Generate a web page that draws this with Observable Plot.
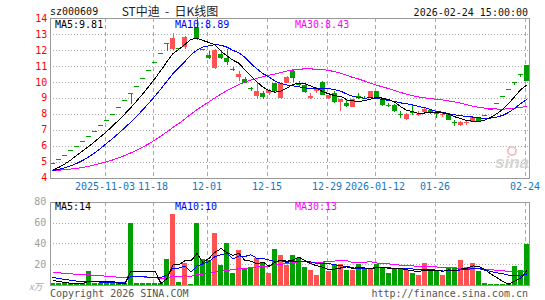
<!DOCTYPE html>
<html><head><meta charset="utf-8">
<script src="https://cdn.jsdelivr.net/npm/d3@7"></script>
<script src="https://cdn.jsdelivr.net/npm/@observablehq/plot@0.6"></script>
<style>
body{margin:0;background:#fff;}
#wrap{position:relative;width:545px;height:300px;overflow:hidden;background:#fff;}
#wrap svg{position:absolute;left:0;shape-rendering:crispEdges;}
</style></head><body><div id="wrap"></div>
<script>
// ---- data ----
const open  = [4.92,5.17,5.43,5.70,5.98,6.28,6.59,6.92,7.27,7.63,8.01,8.41,8.83,9.27,9.73,10.22,10.73,11.27,11.83,12.42,
  12.05,12.11,12.16,13.42,13.42,12.08,11.70,10.88,11.72,11.47,10.82,10.30,10.20,9.58,9.13,9.27,9.27,9.90,8.96,9.95,
  10.68,9.95,9.82,9.00,9.40,10.00,9.00,9.30,8.75,8.70,8.45,9.10,9.01,9.06,9.42,8.86,8.56,8.55,8.00,7.69,
  8.12,7.98,8.10,8.25,8.07,7.95,7.96,7.47,7.30,7.43,7.48,7.77,7.92,8.30,8.65,9.10,9.55,10.00,10.50,11.03];
const high  = [4.92,5.17,5.43,5.70,5.98,6.28,6.59,6.92,7.27,7.63,8.01,8.41,8.83,9.27,9.73,10.22,10.73,11.27,11.83,12.42,
  13.04,12.11,12.85,13.42,14.09,12.08,11.95,12.04,12.00,12.04,10.90,10.68,10.30,9.70,9.90,9.42,9.52,9.95,9.95,10.35,
  10.75,10.05,9.90,9.30,9.65,10.05,9.20,9.40,8.92,8.90,8.95,9.30,9.10,9.42,9.45,8.90,8.65,8.58,8.15,8.05,
  8.55,8.15,8.35,8.30,8.10,8.05,8.05,7.60,7.55,7.55,7.80,7.82,7.92,8.30,8.65,9.10,9.55,10.00,10.50,11.03];
const low   = [4.92,5.17,5.43,5.70,5.98,6.28,6.59,6.92,7.27,7.63,8.01,8.41,8.83,8.60,9.73,10.22,10.73,11.27,11.83,11.90,
  12.00,12.11,12.08,13.42,12.60,12.08,11.40,10.82,11.42,11.06,10.68,10.05,9.90,9.45,8.96,8.92,9.20,9.40,8.92,9.90,
  10.00,9.75,9.30,8.95,9.30,9.15,8.95,8.70,8.20,8.45,8.40,8.95,8.90,9.00,9.06,8.50,8.45,8.10,7.75,7.62,
  7.93,7.85,8.05,8.00,7.70,7.80,7.60,7.25,7.25,7.30,7.45,7.55,7.92,8.30,8.65,9.10,9.55,9.80,10.30,10.05];
const close = [4.92,5.17,5.43,5.70,5.98,6.28,6.59,6.92,7.27,7.63,8.01,8.41,8.83,9.27,9.73,10.22,10.73,11.27,11.83,12.42,
  12.75,12.11,12.78,13.42,12.72,12.08,11.47,12.02,11.47,11.22,10.75,10.50,9.95,9.52,9.42,9.07,9.48,9.42,9.90,10.30,
  10.26,9.80,9.33,9.10,9.60,9.20,9.15,8.72,8.90,8.50,8.90,8.98,9.00,9.40,9.06,8.55,8.55,8.14,7.98,7.98,
  8.10,8.01,8.32,8.06,8.05,7.97,7.62,7.46,7.50,7.45,7.77,7.56,7.92,8.30,8.65,9.10,9.55,10.00,10.50,10.07];
const volume = [1.5,1.8,2.0,1.6,1.9,2.1,13.5,1.8,2.0,1.7,2.1,1.9,2.0,60,2.2,1.8,2.0,2.1,1.9,24.8,
  68,3.2,21,1.0,60,24.5,24,50,19,40,11.6,33.5,15.5,16.8,25.5,22.2,11.6,34.5,28.7,19,
  28.7,25.5,17,14,9.3,22,13,20.5,19.7,14.2,14.2,19.7,16,16,19.7,17.5,11.8,16,16,14.2,
  11.8,9.5,21.6,14,14.2,9.5,16,16,24,17.5,20.7,13.3,2,1,1,1,1,18,14.8,39];
// values before the visible window (feed the moving averages at the left edge)
const priorClose = [4.55,4.60,4.52,4.48,4.50,4.45,4.42,4.50,4.55,4.48,4.44,4.40,4.46,4.52,4.49,4.43,4.41,4.38,4.45,4.47,
  4.42,4.40,4.44,4.46,4.43,4.35,4.38,4.42,4.48];
const priorVolume = [14,18,16,13,20,15,12,17,14,16,19,13,15,12,16,14,17,13,15,12,12,10,11,9,10,8,6,5.5,4];
const tickDay   = [9,17,26,36,46,54,64,79];
const tickLabel = ["2025-11-03","11-18","12-01","12-15","12-29","2026-01-12","01-26","02-24"];
const priceTicks = [4,5,6,7,8,9,10,11,12,13,14];
const volTicks = [20,40,60,80];
const priceLegend = [["MA5",9.81],["MA10",8.89],["MA30",8.43]];
const volLegend = [["MA5",14],["MA10",10],["MA30",13]];

// ---- build ----
const RED = "#ff5252", GREEN = "#00a000";
const MA_COL = {MA5:"#000000", MA10:"#0000ff", MA30:"#ff00ff"};
const candles = open.map((o,i)=>({i, open:o, high:high[i], low:low[i], close:close[i], vol:volume[i], up: close[i] > o}));
const col = d => d.up ? RED : GREEN;
function ma(values, prior, n){
  const full = prior.concat(values);
  return values.map((_,i)=>{const k = prior.length + i; return {i, v: d3.mean(full.slice(k-n+1,k+1))};});
}
const HW = 0.4167;
const tickPos = tickDay.map(d => d - 0.33);
const labelAt = new Map(tickPos.map((p,k)=>[p, tickLabel[k]]));
const xDomain = [-0.4167, 79.4167];
const font = {fontFamily:"'DejaVu Sans Mono', monospace", fontSize:"10px", background:"transparent", overflow:"visible"};
const lineOpts = c => ({x:"i", y:"v", stroke:c, strokeWidth:1});

const pricePlot = Plot.plot({
  width:545, height:200, marginLeft:50, marginRight:16, marginTop:18, marginBottom:22.5,
  x:{domain:xDomain, axis:null}, y:{domain:[4,14], axis:null},
  style:font,
  marks:[
    Plot.gridY(priceTicks.slice(1,-1), {stroke:"#aaa", strokeOpacity:1, strokeDasharray:"1,2"}),
    Plot.gridX(tickPos, {stroke:"#aaa", strokeOpacity:1, strokeDasharray:"4,3"}),
    Plot.axisY(priceTicks, {tickSize:0, tickPadding:3.3, fill:"#ff0000", label:null}),
    Plot.axisX(tickPos, {tickSize:0, tickPadding:5, fill:"#1478c8", tickFormat:d=>labelAt.get(d), label:null}),
    Plot.ruleX(candles, {x:"i", y1:"low", y2:"high", stroke:col}),
    Plot.rect(candles, {x1:d=>d.i-HW, x2:d=>d.i+HW, y1:"open", y2:"close", fill:col}),
    Plot.ruleY(candles.filter(d=>Math.abs(d.close-d.open)<0.03), {y:"close", x1:d=>d.i-HW, x2:d=>d.i+HW, stroke:col}),
    Plot.line(ma(close, priorClose, 30), lineOpts(MA_COL.MA30)),
    Plot.line(ma(close, priorClose, 10), lineOpts(MA_COL.MA10)),
    Plot.line(ma(close, priorClose, 5), lineOpts(MA_COL.MA5)),
    Plot.frame({stroke:"#999"})
  ]
});
pricePlot.style.top = "0px";

const volPlot = Plot.plot({
  width:545, height:110, marginLeft:50, marginRight:16, marginTop:11.7, marginBottom:15,
  x:{domain:xDomain, axis:null}, y:{domain:[0,80], axis:null},
  style:font,
  marks:[
    Plot.gridY([20,40,60], {stroke:"#aaa", strokeOpacity:1, strokeDasharray:"1,2"}),
    Plot.gridX(tickPos, {stroke:"#aaa", strokeOpacity:1, strokeDasharray:"4,3"}),
    Plot.axisY(volTicks, {tickSize:0, tickPadding:4.3, fill:"#a0a0a0", label:null}),
    Plot.rect(candles, {x1:d=>d.i-HW, x2:d=>d.i+HW, y1:0, y2:"vol", fill:col}),
    Plot.line(ma(volume, priorVolume, 30), lineOpts(MA_COL.MA30)),
    Plot.line(ma(volume, priorVolume, 10), lineOpts(MA_COL.MA10)),
    Plot.line(ma(volume, priorVolume, 5), lineOpts(MA_COL.MA5)),
    Plot.frame({stroke:"#999"})
  ]
});
volPlot.style.top = "190px";

const wrap = document.getElementById("wrap");
wrap.appendChild(pricePlot);
wrap.appendChild(volPlot);

// ---- texts ----
const svg = d3.select(wrap).append("svg").attr("width",545).attr("height",300)
  .style("top","0px").style("pointer-events","none")
  .style("font-family","'DejaVu Sans Mono', monospace").style("font-size","10px");
svg.append("text").attr("x",50).attr("y",15).attr("fill","#111").text("sz000609");
svg.append("text").attr("x",170).attr("y",15.5).attr("text-anchor","middle").attr("fill","#222")
  .attr("xml:space","preserve").style("font-family","'Noto Sans CJK SC', sans-serif").style("font-size","12px")
  .text("ST中迪  -  日K线图");
svg.append("text").attr("x",528).attr("y",15.5).attr("text-anchor","end").attr("fill","#111").text("2026-02-24 15:00:00");
const legX = [55,175,295];
priceLegend.forEach(([k,v],j)=>svg.append("text").attr("x",legX[j]).attr("y",27.5).attr("fill",MA_COL[k]).text(`${k}:${v}`));
volLegend.forEach(([k,v],j)=>svg.append("text").attr("x",legX[j]).attr("y",209.5).attr("fill",MA_COL[k]).text(`${k}:${v}`));
svg.append("text").attr("x",29).attr("y",289.5).attr("fill","#aaa").style("font-style","italic").style("font-size","9px")
  .style("font-family","'Noto Sans CJK SC', sans-serif").text("x万");
svg.append("text").attr("x",50).attr("y",296.5).attr("fill","#555").text("Copyright 2026 SINA.COM");
svg.append("text").attr("x",528).attr("y",296.5).attr("text-anchor","end").attr("fill","#555").text("http://finance.sina.com.cn");
svg.append("text").attr("x",512).attr("y",168).attr("text-anchor","middle").attr("fill","#d4d4d4")
  .style("font-family","'Liberation Sans', sans-serif").style("font-size","17px").style("font-style","italic").style("font-weight","bold").text("sina");
svg.append("circle").attr("cx",512).attr("cy",151).attr("r",4).attr("fill","none").attr("stroke","#f2c4c4").attr("stroke-width",2);
</script></body></html>
